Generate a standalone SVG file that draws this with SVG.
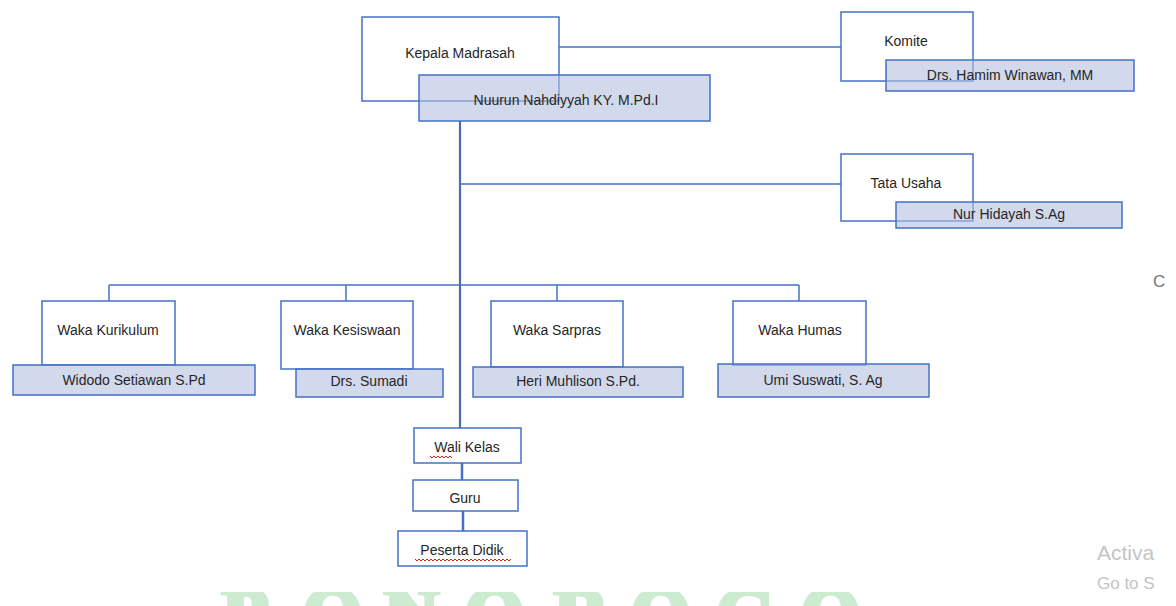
<svg xmlns="http://www.w3.org/2000/svg" width="1176" height="606" viewBox="0 0 1176 606">
<style>
.box{fill:#ffffff;stroke:#4472c4;stroke-width:1.5}
.name{fill:#b4c0e0;fill-opacity:0.6;stroke:#4472c4;stroke-width:1.5}
.t{font-family:"Liberation Sans",Arial,sans-serif;font-size:14px;fill:#262626;text-anchor:middle}
.c{stroke:#4472c4;stroke-width:1.5;fill:none}
.wave{stroke:#e02020;stroke-width:1;fill:none}
.wm{font-family:"Liberation Serif",serif;font-weight:bold;font-size:76px;fill:#cdebd0;stroke:#cdebd0;stroke-width:5}
.win{font-family:"Liberation Sans",Arial,sans-serif;fill:#c4c4c4}
</style>
<defs>
<clipPath id="wmclip"><rect x="0" y="592" width="1176" height="14"/></clipPath>
</defs>
<rect width="1176" height="606" fill="#ffffff"/>

<g id="watermark" clip-path="url(#wmclip)">
<text class="wm" x="222 303 384 465 554 631 716 801" y="640">PONOROGO</text>
</g>

<g id="connectors">
<line class="c" x1="559" y1="47" x2="841" y2="47"/>
<line class="c" x1="460" y1="184" x2="841" y2="184"/>
<line class="c" x1="109" y1="285" x2="799" y2="285"/>
<line class="c" x1="109" y1="285" x2="109" y2="301"/>
<line class="c" x1="346" y1="285" x2="346" y2="301"/>
<line class="c" x1="557" y1="285" x2="557" y2="301"/>
<line class="c" x1="799" y1="285" x2="799" y2="301"/>
<line stroke="#4a6db0" stroke-width="2.2" x1="460" y1="121" x2="460" y2="428"/>
<line stroke="#4472c4" stroke-width="2.5" x1="462" y1="463" x2="462" y2="480"/>
<line stroke="#4472c4" stroke-width="2.5" x1="463" y1="511" x2="463" y2="531"/>
</g>

<g id="kepala">
<rect class="box" x="362" y="17" width="197" height="84"/>
<text class="t" x="460" y="58">Kepala Madrasah</text>
</g>
<g id="kepala-name">
<rect class="name" x="419" y="75" width="291" height="46"/>
<text class="t" x="566" y="105">Nuurun Nahdiyyah KY. M.Pd.I</text>
</g>

<g id="komite">
<rect class="box" x="841" y="12" width="132" height="69"/>
<text class="t" x="906" y="46">Komite</text>
</g>
<g id="komite-name">
<rect class="name" x="886" y="60" width="248" height="31"/>
<text class="t" x="1010" y="80">Drs. Hamim Winawan, MM</text>
</g>

<g id="tatausaha">
<rect class="box" x="841" y="154" width="132" height="67"/>
<text class="t" x="906" y="188">Tata Usaha</text>
</g>
<g id="tatausaha-name">
<rect class="name" x="896" y="202" width="226" height="26"/>
<text class="t" x="1009" y="219">Nur Hidayah S.Ag</text>
</g>

<g id="kurikulum">
<rect class="box" x="42" y="301" width="133" height="64"/>
<text class="t" x="108" y="335">Waka Kurikulum</text>
</g>
<g id="kurikulum-name">
<rect class="name" x="13" y="365" width="242" height="30"/>
<text class="t" x="134" y="385">Widodo Setiawan S.Pd</text>
</g>

<g id="kesiswaan">
<rect class="box" x="281" y="301" width="132" height="68"/>
<text class="t" x="347" y="335">Waka Kesiswaan</text>
</g>
<g id="kesiswaan-name">
<rect class="name" x="296" y="369" width="147" height="28"/>
<text class="t" x="369" y="386">Drs. Sumadi</text>
</g>

<g id="sarpras">
<rect class="box" x="491" y="301" width="132" height="66"/>
<text class="t" x="557" y="335">Waka Sarpras</text>
</g>
<g id="sarpras-name">
<rect class="name" x="473" y="367" width="210" height="30"/>
<text class="t" x="578" y="386">Heri Muhlison S.Pd.</text>
</g>

<g id="humas">
<rect class="box" x="733" y="301" width="133" height="64"/>
<text class="t" x="800" y="335">Waka Humas</text>
</g>
<g id="humas-name">
<rect class="name" x="718" y="364" width="211" height="33"/>
<text class="t" x="823" y="385">Umi Suswati, S. Ag</text>
</g>

<g id="walikelas">
<rect class="box" x="414" y="428" width="107" height="35"/>
<text class="t" x="467" y="452">Wali Kelas</text>
<path class="wave" d="M430 456 l2 2 l2 -2 l2 2 l2 -2 l2 2 l2 -2 l2 2 l2 -2 l2 2 l2 -2 l2 2"/>
</g>

<g id="guru">
<rect class="box" x="413" y="480" width="105" height="31"/>
<text class="t" x="465" y="503">Guru</text>
</g>

<g id="peserta">
<rect class="box" x="398" y="531" width="129" height="35"/>
<text class="t" x="462" y="555">Peserta Didik</text>
<path class="wave" d="M415 559 l2 2 l2 -2 l2 2 l2 -2 l2 2 l2 -2 l2 2 l2 -2 l2 2 l2 -2 l2 2 l2 -2 l2 2 l2 -2 l2 2 l2 -2 l2 2 l2 -2 l2 2 l2 -2 l2 2 l2 -2 l2 2 l2 -2 l2 2 l2 -2 l2 2 l2 -2 l2 2 l2 -2 l2 2 l2 -2 l2 2 l2 -2 l2 2 l2 -2 l2 2 l2 -2 l2 2 l2 -2 l2 2 l2 -2 l2 2 l2 -2 l2 2 l2 -2 l2 2 l2 -2"/>
</g>

<text class="win" x="1153" y="287" font-size="17" style="fill:#777777">C</text>
<text class="win" x="1097" y="560" font-size="21">Activa</text>
<text class="win" x="1097" y="589" font-size="17">Go to S</text>
</svg>
